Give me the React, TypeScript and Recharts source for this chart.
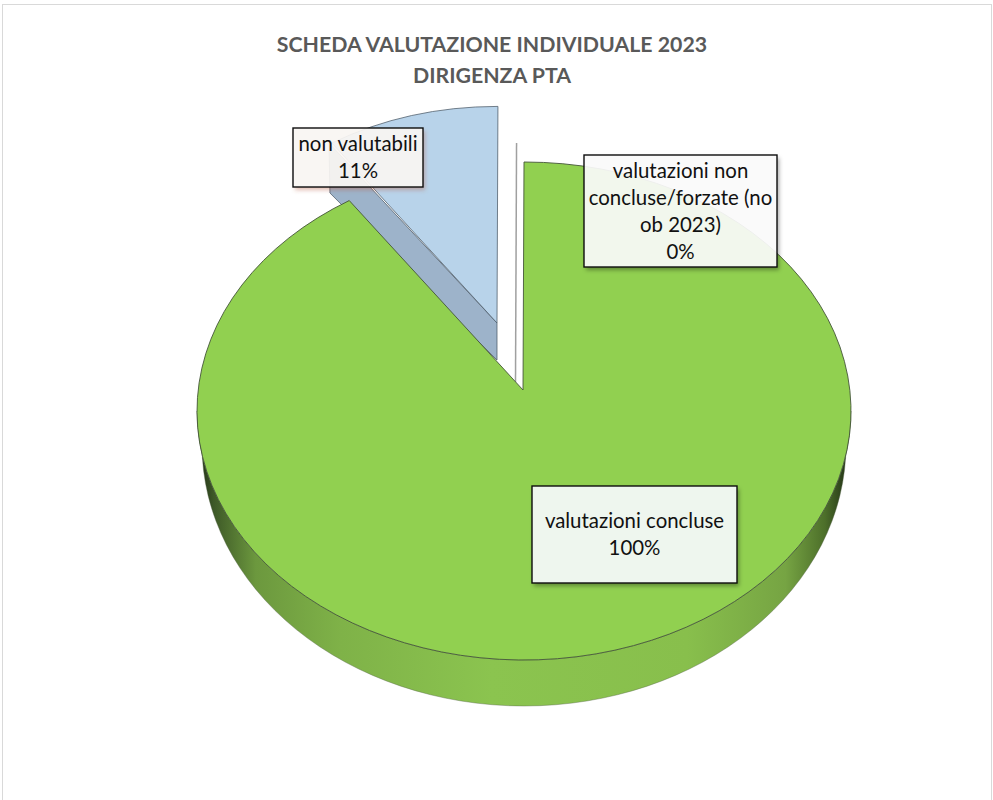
import { Pie, PieChart } from "recharts";

// drawing order: the zero slice and the blue one sit behind the green one
const sliceNames = ["valutazioni non concluse/forzate (no ob 2023)", "non valutabili", "valutazioni concluse"];
const sliceValues = [0, 11, 100];
const sliceLabels = [
  ["valutazioni non", "concluse/forzate (no", "ob 2023)", "0%"],
  ["non valutabili", "11%"],
  ["valutazioni concluse", "100%"],
];
const titleLines = ["SCHEDA VALUTAZIONE INDIVIDUALE 2023", "DIRIGENZA PTA"];

const data = sliceNames.map((name, i) => ({ name, value: sliceValues[i] }));

// top face ellipse and the foreshortening of the fake 3d view
const RX = 327;
const RY = 249;
const ELLIPSE_CX = 524;
const ELLIPSE_CY = 411;
const K = 0.9;
const DEPTH_RX = 322;
const DEPTH_RY = 261;
const DEPTH_CY = 445;

const explode = [
  { dx: -7.5, dy: -8, scale: 1.048 },
  { dx: -26, dy: -67, scale: 0.95 },
  { dx: 0, dy: 0, scale: 1 },
];

const boxes = [
  { x: 584, y: 155, w: 193, h: 112, fill: "#fafafa", opacity: 0.93, shadow: "url(#boxShadow)" },
  { x: 293, y: 128, w: 130, h: 59, fill: "#f9f5f2", opacity: 0.93, shadow: "url(#boxShadowWarm)" },
  { x: 532, y: 486, w: 205, h: 97, fill: "#f8f9ff", opacity: 0.9, shadow: "url(#boxShadow)" },
];

function rimPoint(angle: number, cx: number, cy: number) {
  const half = (((angle - 90) * Math.PI) / 180) / 2;
  const t = 2 * Math.atan2(K * Math.sin(half), Math.cos(half));
  const x = ELLIPSE_CX - RX * Math.sin(t);
  const y = ELLIPSE_CY - RY * Math.cos(t);
  return { x: x - 523 + cx, y: y - 390 + cy };
}

function SliceShape(props: any) {
  const { cx, cy, startAngle, endAngle, index } = props;
  const ex = explode[index];
  const ax = cx + ex.dx;
  const ay = cy + ex.dy;
  const scaled = (angle: number) => {
    const p = rimPoint(angle, cx, cy);
    return { x: ax + (p.x - cx) * ex.scale, y: ay + (p.y - cy) * ex.scale };
  };
  const a = scaled(startAngle);
  const b = scaled(endAngle);
  const rx = RX * ex.scale;
  const ry = RY * ex.scale;

  if (index === 0) {
    return <line x1={ax} y1={ay} x2={b.x} y2={b.y} stroke="#a0a0a0" strokeWidth={1.5} />;
  }

  if (index === 1) {
    return (
      <g>
        <path
          d={`M${ax},${ay} L${ax},${ay + 37} L${b.x - 2},${b.y + 50} L${b.x - 3},${b.y} Z`}
          fill="#9db3ca"
          stroke="#4a5866"
          strokeWidth={0.75}
        />
        <path
          d={`M${ax},${ay} L${a.x},${a.y} A${rx},${ry} 0 0 0 ${b.x},${b.y} Z`}
          fill="#b8d3ea"
          stroke="#4a5866"
          strokeWidth={0.75}
        />
      </g>
    );
  }

  const large = endAngle - startAngle > 180 ? 1 : 0;
  return (
    <g>
      <path
        d={`M${ELLIPSE_CX - RX},${ELLIPSE_CY} A${RX},${RY} 0 0 0 ${ELLIPSE_CX + RX},${ELLIPSE_CY} L${ELLIPSE_CX + DEPTH_RX},${DEPTH_CY} A${DEPTH_RX},${DEPTH_RY} 0 0 1 ${ELLIPSE_CX - DEPTH_RX},${DEPTH_CY} Z`}
        fill="url(#wallShade)"
        stroke="#55644a"
        strokeWidth={0.4}
      />
      <path
        d={`M${ax},${ay} L${a.x},${a.y} A${rx},${ry} 0 ${large} 0 ${b.x},${b.y} Z`}
        fill="#91d050"
        stroke="#45563a"
        strokeWidth={0.9}
      />
    </g>
  );
}

function SliceLabel(props: any) {
  const { index } = props;
  const box = boxes[index];
  const lines = sliceLabels[index];
  const lineGap = 27;
  const top = box.y + box.h / 2 - ((lines.length - 1) * lineGap) / 2 + 7;
  return (
    <g>
      <rect x={box.x} y={box.y} width={box.w} height={box.h} fill="#000" filter={box.shadow} />
      <rect
        x={box.x}
        y={box.y}
        width={box.w}
        height={box.h}
        fill={box.fill}
        fillOpacity={box.opacity}
        stroke="#0d0d0d"
        strokeWidth={1.4}
      />
      <text textAnchor="middle" fontFamily="Lato, sans-serif" fontSize={20.4} fill="#111">
        {lines.map((line, i) => (
          <tspan key={line} x={box.x + box.w / 2} y={top + i * lineGap}>
            {line}
          </tspan>
        ))}
      </text>
    </g>
  );
}

export default function App() {
  return (
    <div style={{ position: "absolute", left: 0, top: 0, width: 993, height: 800, overflow: "hidden", background: "#fff" }}>
      <div
        style={{
          position: "absolute",
          left: 2,
          top: 4,
          width: 988,
          height: 840,
          border: "1px solid #d9d9d9",
        }}
      />
      <div style={{ position: "absolute", left: 0, top: 0 }}>
        <PieChart width={993} height={800} margin={{ top: 0, right: 0, bottom: 0, left: 0 }}>
          <defs>
            <linearGradient id="wallShade" gradientUnits="userSpaceOnUse" x1={197} y1={0} x2={851} y2={0}>
              <stop offset="0%" stopColor="#1c2a14" />
              <stop offset="2.5%" stopColor="#3d5827" />
              <stop offset="9%" stopColor="#6c983e" />
              <stop offset="22%" stopColor="#7fb248" />
              <stop offset="45%" stopColor="#8bc44f" />
              <stop offset="75%" stopColor="#88bf4c" />
              <stop offset="90%" stopColor="#76a443" />
              <stop offset="96%" stopColor="#4d6f2a" />
              <stop offset="100%" stopColor="#1c2a14" />
            </linearGradient>
            <filter id="boxShadow" x="-10%" y="-10%" width="125%" height="125%">
              <feGaussianBlur in="SourceAlpha" stdDeviation={2} result="blur" />
              <feOffset in="blur" dx={1.5} dy={2.5} result="off" />
              <feFlood floodColor="#000" floodOpacity={0.35} />
              <feComposite in2="off" operator="in" result="shadow" />
              <feComposite in="shadow" in2="SourceAlpha" operator="out" />
            </filter>
            <filter id="boxShadowWarm" x="-10%" y="-10%" width="125%" height="125%">
              <feGaussianBlur in="SourceAlpha" stdDeviation={2} result="blur" />
              <feOffset in="blur" dx={1.5} dy={2.5} result="off" />
              <feFlood floodColor="#b5583a" floodOpacity={0.4} />
              <feComposite in2="off" operator="in" result="shadow" />
              <feComposite in="shadow" in2="SourceAlpha" operator="out" />
            </filter>
          </defs>
          <text textAnchor="middle" fontFamily="Lato, sans-serif" fontWeight={700} fontSize={21.3} fill="#595959">
            {titleLines.map((line, i) => (
              <tspan key={line} x={492} y={52 + i * 31}>
                {line}
              </tspan>
            ))}
          </text>
          <Pie
            data={data}
            dataKey="value"
            nameKey="name"
            cx={523}
            cy={390}
            outerRadius={250}
            startAngle={90}
            endAngle={450}
            shape={SliceShape}
            label={SliceLabel}
            labelLine={false}
            isAnimationActive={false}
          />
        </PieChart>
      </div>
    </div>
  );
}
